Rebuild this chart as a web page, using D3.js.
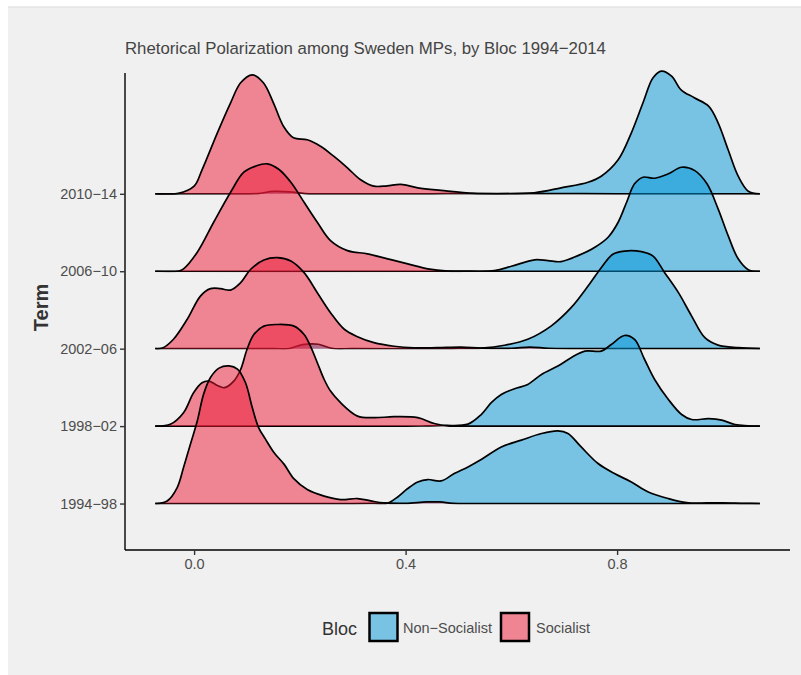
<!DOCTYPE html>
<html><head><meta charset="utf-8">
<script src="https://cdn.jsdelivr.net/npm/d3@7"></script>
<style>
body{margin:0;background:#fff}
text{font-family:"Liberation Sans",Arial,sans-serif}
</style>
</head><body>
<svg id="c" width="801" height="675"></svg>
<script>
// ---------- data ----------
const terms = ["1994−98","1998−02","2002−06","2006−10","2010−14"];
const blocs = ["Non−Socialist","Socialist"];
const xTicks = [0.0, 0.4, 0.8];
const titleText = "Rhetorical Polarization among Sweden MPs, by Bloc 1994−2014";

// density knots [x, density] per term and bloc
const soc_1994_98 = [[-0.0735,0],[-0.051,0.13],[-0.032,0.8],[-0.020,1.8],[-0.007,2.97],[0.006,4.13],[0.018,5.47],[0.031,6.3],[0.047,6.77],[0.066,6.88],[0.082,6.72],[0.097,6.05],[0.110,4.8],[0.122,3.8],[0.135,3.22],[0.151,2.55],[0.170,1.97],[0.189,1.23],[0.214,0.7],[0.246,0.37],[0.277,0.2],[0.309,0.25],[0.334,0.13],[0.359,0.03],[0.40,0.01],[0.44,0.08],[0.465,0.08],[0.49,0.01],[0.55,0],[0.8,0],[1.07,0]];
const non_1994_98 = [[-0.0735,0],[0.30,0],[0.34,0.01],[0.366,0.02],[0.385,0.33],[0.404,0.75],[0.423,1.08],[0.442,1.2],[0.467,1.13],[0.492,1.5],[0.518,1.83],[0.543,2.2],[0.581,2.83],[0.619,3.17],[0.657,3.5],[0.688,3.63],[0.707,3.5],[0.732,2.83],[0.764,2.0],[0.795,1.5],[0.827,1.08],[0.859,0.58],[0.897,0.25],[0.935,0.03],[0.97,0.03],[1.0,0.04],[1.04,0.01],[1.07,0]];
const soc_1998_02 = [[-0.0735,0],[-0.045,0.09],[-0.020,0.67],[-0.001,1.67],[0.015,2.17],[0.028,2.25],[0.044,2.03],[0.057,1.92],[0.075,2.25],[0.088,2.83],[0.100,3.83],[0.113,4.58],[0.132,5.0],[0.157,5.08],[0.189,5.0],[0.208,4.58],[0.220,4.0],[0.233,3.17],[0.246,2.33],[0.258,1.75],[0.277,1.17],[0.309,0.5],[0.340,0.42],[0.378,0.47],[0.423,0.42],[0.454,0.13],[0.48,0.01],[0.53,0],[0.8,0],[1.07,0]];
const non_1998_02 = [[-0.0735,0],[0.40,0],[0.44,0.01],[0.473,0.03],[0.518,0.1],[0.543,0.58],[0.562,1.17],[0.581,1.58],[0.606,1.87],[0.631,2.08],[0.657,2.58],[0.688,3.0],[0.713,3.42],[0.739,3.75],[0.770,3.75],[0.789,4.08],[0.814,4.53],[0.833,4.33],[0.852,3.33],[0.871,2.33],[0.897,1.33],[0.922,0.58],[0.941,0.33],[0.973,0.37],[0.998,0.3],[1.023,0.08],[1.07,0]];
const soc_2002_06 = [[-0.0735,0],[-0.06,0.03],[-0.039,0.47],[-0.013,1.47],[0.012,2.63],[0.031,3.0],[0.050,3.0],[0.069,2.93],[0.088,3.3],[0.107,3.97],[0.132,4.43],[0.157,4.55],[0.183,4.38],[0.208,3.8],[0.233,2.8],[0.258,1.8],[0.284,0.97],[0.309,0.6],[0.340,0.3],[0.378,0.12],[0.416,0.04],[0.46,0.05],[0.505,0.08],[0.543,0.03],[0.6,0.02],[0.635,0.08],[0.67,0.02],[0.72,0],[0.9,0],[1.07,0]];
const non_2002_06 = [[-0.0735,0],[0.15,0],[0.18,0.01],[0.205,0.2],[0.235,0.22],[0.26,0.02],[0.30,0],[0.45,0],[0.5,0.01],[0.543,0.03],[0.587,0.17],[0.631,0.47],[0.675,1.13],[0.713,2.05],[0.745,3.13],[0.770,4.05],[0.792,4.72],[0.814,4.88],[0.846,4.85],[0.868,4.63],[0.890,3.8],[0.916,2.8],[0.941,1.63],[0.966,0.55],[0.991,0.18],[1.029,0.05],[1.07,0]];
const soc_2006_10 = [[-0.0735,0],[-0.029,0.01],[-0.020,0.12],[0.006,0.95],[0.037,2.45],[0.069,3.95],[0.094,4.95],[0.116,5.25],[0.138,5.37],[0.160,5.1],[0.183,4.45],[0.208,3.45],[0.233,2.45],[0.258,1.53],[0.290,1.03],[0.328,0.87],[0.366,0.62],[0.404,0.37],[0.442,0.12],[0.48,0.01],[0.53,0],[0.8,0],[1.07,0]];
const non_2006_10 = [[-0.0735,0],[0.45,0],[0.5,0.01],[0.568,0.03],[0.600,0.25],[0.644,0.57],[0.669,0.53],[0.694,0.48],[0.726,0.78],[0.758,1.2],[0.783,1.7],[0.802,2.45],[0.818,3.45],[0.833,4.37],[0.849,4.7],[0.871,4.65],[0.897,4.87],[0.922,5.2],[0.947,5.03],[0.970,4.37],[0.991,3.12],[1.010,1.78],[1.029,0.62],[1.048,0.08],[1.07,0]];
const soc_2010_14 = [[-0.0735,0],[-0.03,0.02],[0.0,0.38],[0.015,1.2],[0.044,3.05],[0.069,4.55],[0.088,5.55],[0.110,5.95],[0.131,5.55],[0.150,4.55],[0.169,3.38],[0.188,2.8],[0.214,2.7],[0.239,2.38],[0.264,1.88],[0.290,1.3],[0.315,0.7],[0.340,0.38],[0.365,0.4],[0.391,0.47],[0.423,0.3],[0.467,0.17],[0.53,0.02],[0.6,0.01],[0.7,0.01],[0.8,0],[1.07,0]];
const non_2010_14 = [[-0.0735,0],[0.09,0],[0.12,0.01],[0.15,0.12],[0.18,0.1],[0.21,0.01],[0.25,0],[0.45,0],[0.5,0.01],[0.643,0.05],[0.694,0.3],[0.745,0.58],[0.770,0.88],[0.802,1.7],[0.827,3.05],[0.849,4.55],[0.868,5.8],[0.884,6.13],[0.903,5.88],[0.921,5.2],[0.946,4.8],[0.973,4.38],[0.991,3.55],[1.010,2.2],[1.029,0.88],[1.048,0.13],[1.07,0]];

const nonSeries = [non_1994_98, non_1998_02, non_2002_06, non_2006_10, non_2010_14];
const socSeries = [soc_1994_98, soc_1998_02, soc_2002_06, soc_2006_10, soc_2010_14];

// ---------- layout ----------
const svg = d3.select("#c");
const W = 801, H = 675;
const panel = {left:125, right:790, top:73, bottom:550};
const colors = {"Non−Socialist":"#0096D8","Socialist":"#EE1834"};
const fillOpacity = 0.5;
const ridgeScale = 0.2583; // ridge-index units per density unit

svg.append("rect").attr("x",0).attr("y",0).attr("width",W).attr("height",H).attr("fill","#fff");
svg.append("rect").attr("x",8).attr("y",7).attr("width",W-8).attr("height",H-7).attr("fill","#f0f0f0");
svg.append("line").attr("x1",8).attr("x2",W).attr("y1",7).attr("y2",7).attr("stroke","#d9d9d9").attr("stroke-width",1);

const x = d3.scaleLinear().domain([-0.1307, 1.127]).range([panel.left, panel.right]);
const y = d3.scaleLinear().domain([0.4, 6.56]).range([panel.bottom, panel.top]);
const curve = d3.curveCatmullRom.alpha(0.5);

const defs = svg.append("defs");
const g = svg.append("g");
// draw from top ridge down so lower ridges sit on top
for (let i = terms.length - 1; i >= 0; i--) {
  const base = i + 1;
  const cid = "clip" + i;
  defs.append("clipPath").attr("id", cid).append("rect")
    .attr("x", 0).attr("y", 0).attr("width", W).attr("height", y(base) + 0.9);
  const rg = g.append("g").attr("clip-path", `url(#${cid})`);
  const pairs = [["Non−Socialist", nonSeries[i]], ["Socialist", socSeries[i]]];
  pairs.forEach(([bloc, data]) => {
    const area = d3.area()
      .x(d => x(d[0]))
      .y0(y(base))
      .y1(d => y(base + d[1] * ridgeScale))
      .curve(curve);
    const line = d3.line()
      .x(d => x(d[0]))
      .y(d => y(base + d[1] * ridgeScale))
      .curve(curve);
    rg.append("path").attr("d", area(data))
      .attr("fill", colors[bloc]).attr("fill-opacity", fillOpacity).attr("stroke","none");
    rg.append("path").attr("d", line(data))
      .attr("fill","none").attr("stroke","#000").attr("stroke-width",1.7)
      .attr("stroke-linejoin","round");
  });
}

// axes
const yAxis = d3.axisLeft(y).tickValues(terms.map((t,i)=>i+1))
  .tickFormat(v => terms[v-1]).tickSize(5).tickSizeOuter(0).tickPadding(3);
const ya = svg.append("g").attr("transform",`translate(${panel.left},0)`).call(yAxis);
const xAxis = d3.axisBottom(x).tickValues(xTicks).tickFormat(d3.format(".1f"))
  .tickSize(5).tickSizeOuter(0).tickPadding(4);
const xa = svg.append("g").attr("transform",`translate(0,${panel.bottom})`).call(xAxis);
[ya, xa].forEach(a => {
  a.select(".domain").attr("stroke","#000").attr("stroke-width",1.4);
  a.selectAll(".tick line").attr("stroke","#333").attr("stroke-width",1.4);
  a.selectAll(".tick text").attr("fill","#4d4d4d").style("font-size","14.5px")
    .style("font-family",'"Liberation Sans",Arial,sans-serif');
});
ya.select(".domain").attr("d",`M0,${panel.top}V${panel.bottom}`);
xa.select(".domain").attr("d",`M${panel.left},0H${panel.right}`);

// title
svg.append("text").attr("x",panel.left).attr("y",54).attr("fill","#444")
  .style("font-size","16.8px").text(titleText);

// y-axis title
svg.append("text").attr("transform",`translate(48,${(panel.top+panel.bottom)/2 - 4}) rotate(-90)`)
  .attr("text-anchor","middle").attr("fill","#333").style("font-size","20px")
  .style("font-weight","bold").text("Term");

// legend
const lg = svg.append("g");
lg.append("text").attr("x",322).attr("y",634.5).attr("fill","#333").style("font-size","18px").text("Bloc");
const keyX = [369.5, 501];
const labX = [403, 536];
blocs.forEach((b,i)=>{
  lg.append("rect").attr("x",keyX[i]).attr("y",613).attr("width",28).attr("height",28)
    .attr("fill",colors[b]).attr("fill-opacity",fillOpacity).attr("stroke","#000").attr("stroke-width",2.5);
  lg.append("text").attr("x",labX[i]).attr("y",633).attr("fill","#4d4d4d")
    .style("font-size","14.5px").text(b);
});
</script>
</body></html>
